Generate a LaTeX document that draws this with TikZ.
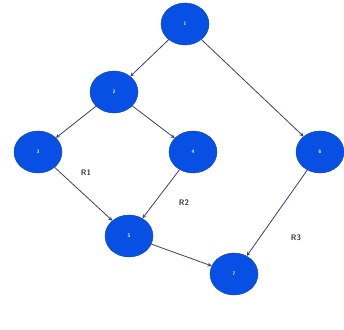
\documentclass[tikz,border=0pt]{standalone}
\usetikzlibrary{shapes.geometric}
\definecolor{nodeblue}{RGB}{8,80,228}
\definecolor{edgenavy}{RGB}{60,60,120}
\definecolor{labelgray}{RGB}{55,55,60}
\begin{document}
\begin{tikzpicture}[x=1pt, y=-1pt,
  state/.style={ellipse, fill=nodeblue, draw=nodeblue!85!black, minimum width=48pt,
                minimum height=42pt, inner sep=0pt, text=white, font=\sffamily\tiny\bfseries},
  arr/.style={->, draw=edgenavy, thick, >=stealth},
  region/.style={font=\sffamily\footnotesize\bfseries, text=labelgray},
]
\useasboundingbox (0,0) rectangle (344,329);

\node[state] (n1) at (185,24)  {1};
\node[state] (n2) at (114,92)  {2};
\node[state] (n3) at (38,152)  {3};
\node[state] (n4) at (193,152) {4};
\node[state] (n6) at (320,152) {6};
\node[state] (n5) at (129,236) {5};
\node[state] (n7) at (234,274) {7};

\draw[arr] (n1) -- (n2);
\draw[arr] (n1) -- (n6);
\draw[arr] (n2) -- (n3);
\draw[arr] (n2) -- (n4);
\draw[arr] (n3) -- (n5);
\draw[arr] (n4) -- (n5);
\draw[arr] (n5) -- (n7);
\draw[arr] (n6) -- (n7);

\node[region] (r1) at (86,173)  {R1};
\node[region] (r2) at (184,203) {R2};
\node[region] (r3) at (296,238) {R3};

\end{tikzpicture}
\end{document}
